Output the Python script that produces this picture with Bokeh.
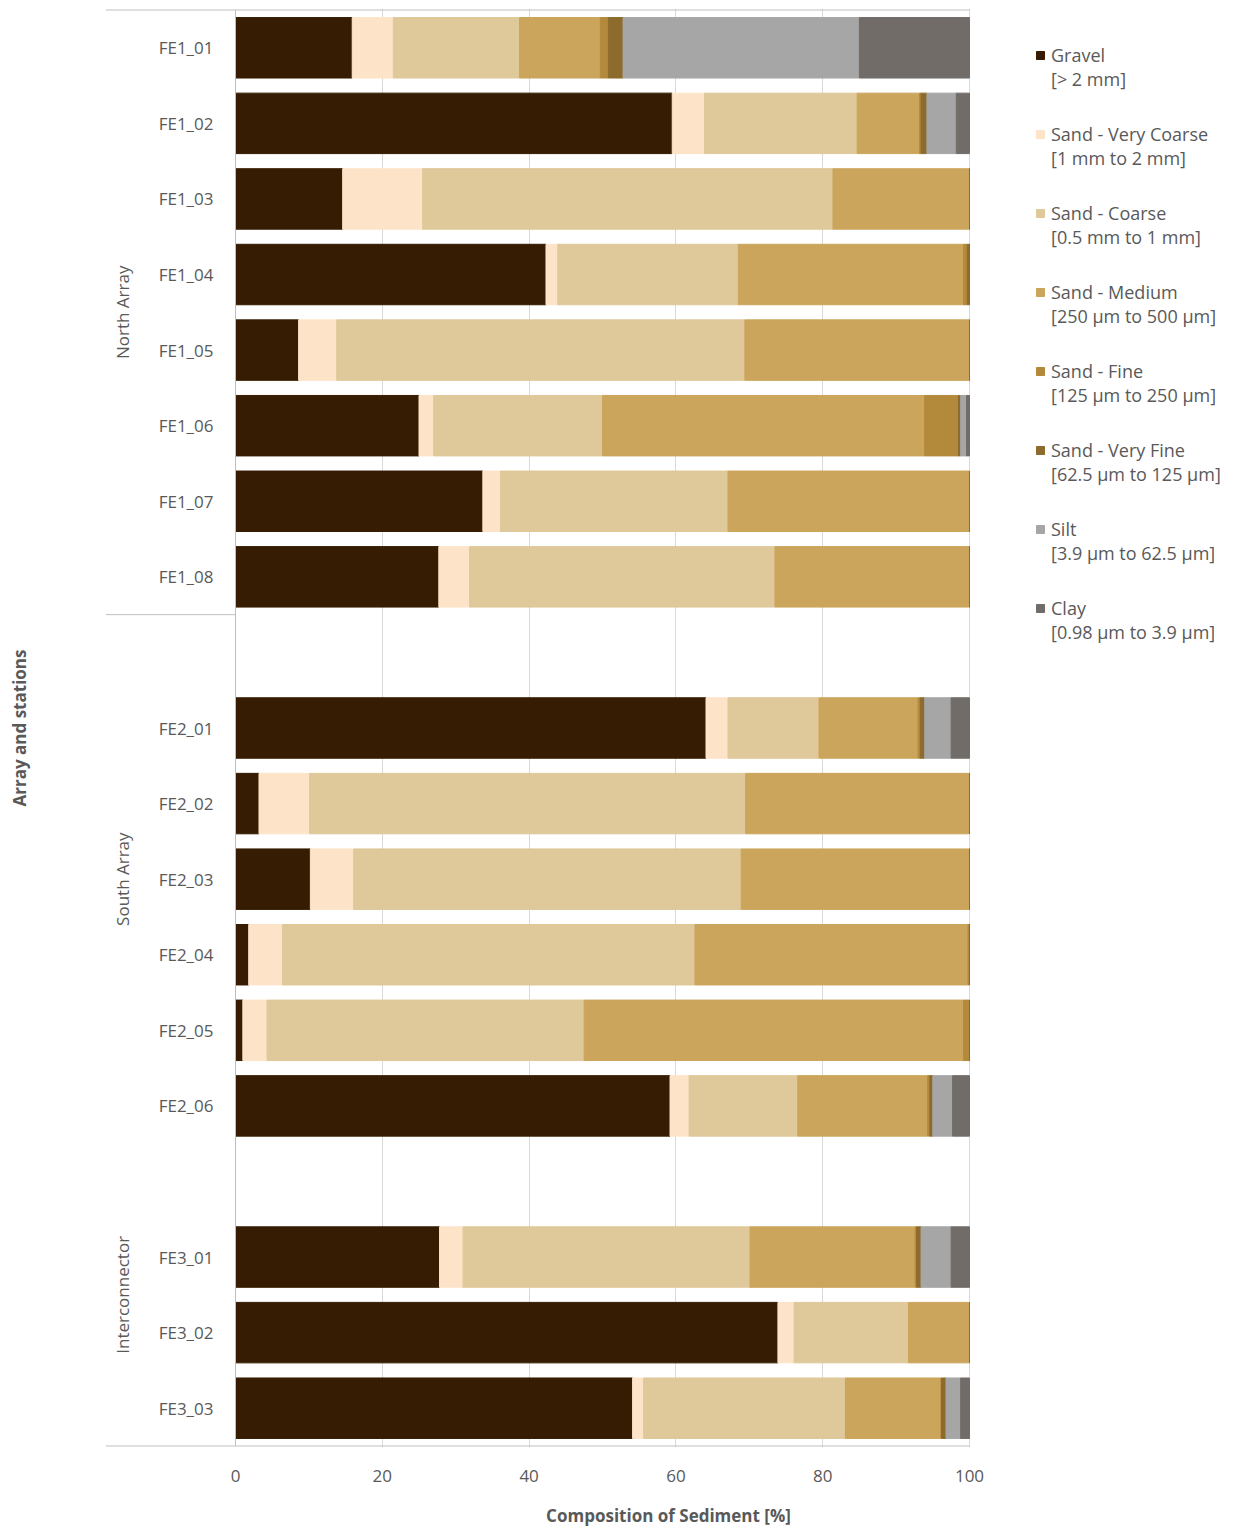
import math
from bokeh.plotting import figure
from bokeh.models import (ColumnDataSource, Range1d, FixedTicker, Legend, LegendItem)
from bokeh.embed import file_html
from bokeh.resources import INLINE

# ---------------- data ----------------
stations = ["FE1_01", "FE1_02", "FE1_03", "FE1_04", "FE1_05", "FE1_06", "FE1_07", "FE1_08",
            "FE2_01", "FE2_02", "FE2_03", "FE2_04", "FE2_05", "FE2_06",
            "FE3_01", "FE3_02", "FE3_03"]
station_group = ["North Array"] * 8 + ["South Array"] * 6 + ["Interconnector"] * 3
groups = ["North Array", "South Array", "Interconnector"]

gravel      = [15.9, 59.5, 14.6, 42.3, 8.6, 25.0, 33.7, 27.7, 64.1, 3.2, 10.2, 1.8, 1.0, 59.2, 27.8, 73.9, 54.1]
very_coarse = [5.6, 4.4, 10.9, 1.6, 5.2, 2.0, 2.4, 4.2, 3.0, 6.9, 5.9, 4.6, 3.3, 2.6, 3.2, 2.2, 1.5]
coarse      = [17.2, 20.8, 55.9, 24.6, 55.6, 23.0, 31.0, 41.6, 12.4, 59.4, 52.8, 56.2, 43.2, 14.8, 39.1, 15.6, 27.5]
medium      = [11.0, 8.5, 18.6, 30.7, 30.6, 43.9, 32.9, 26.5, 13.5, 30.5, 31.1, 37.2, 51.7, 17.7, 22.5, 8.3, 13.0]
fine        = [1.1, 0.2, 0.0, 0.5, 0.0, 4.6, 0.0, 0.0, 0.3, 0.0, 0.0, 0.2, 0.8, 0.3, 0.2, 0.0, 0.1]
very_fine   = [2.0, 0.8, 0.0, 0.3, 0.0, 0.3, 0.0, 0.0, 0.6, 0.0, 0.0, 0.0, 0.0, 0.4, 0.6, 0.0, 0.6]
silt        = [32.2, 4.0, 0.0, 0.0, 0.0, 0.8, 0.0, 0.0, 3.6, 0.0, 0.0, 0.0, 0.0, 2.7, 4.1, 0.0, 2.0]
clay        = [15.0, 1.8, 0.0, 0.0, 0.0, 0.4, 0.0, 0.0, 2.5, 0.0, 0.0, 0.0, 0.0, 2.3, 2.5, 0.0, 1.2]

class_keys = ["gravel", "very_coarse", "coarse", "medium", "fine", "very_fine", "silt", "clay"]
class_names = ["Gravel", "Sand - Very Coarse", "Sand - Coarse", "Sand - Medium",
               "Sand - Fine", "Sand - Very Fine", "Silt", "Clay"]
class_ranges = ["[> 2 mm]", "[1 mm to 2 mm]", "[0.5 mm to 1 mm]", "[250 \u00b5m to 500 \u00b5m]",
                "[125 \u00b5m to 250 \u00b5m]", "[62.5 \u00b5m to 125 \u00b5m]",
                "[3.9 \u00b5m to 62.5 \u00b5m]", "[0.98 \u00b5m to 3.9 \u00b5m]"]
colors = ["#351C02", "#FDE4C9", "#DFC899", "#CBA55B", "#B38A3C", "#8C6B2D", "#A6A6A6", "#716C68"]

x_ticks = [0, 20, 40, 60, 80, 100]

# ---------------- row layout (one blank slot before each new group) ----------------
positions = []
boundaries = [0]
group_spans = {}
slot = 0
prev = None
for st, g in zip(stations, station_group):
    if prev is not None and g != prev:
        boundaries.append(slot)
        slot += 1
    if g not in group_spans:
        group_spans[g] = [slot - (1 if prev is not None else 0), None]
    positions.append(slot + 0.5)
    slot += 1
    group_spans[g][1] = slot
    prev = g
n_slots = slot

# pixel geometry of the chart (screen layout, not data)
W, H = 1231, 1529
FRAME_L, ZERO_X, FULL_X, PLOT_T, PLOT_B = 105, 235, 969, 10, 1445
ppu = (FULL_X - ZERO_X) / 100.0
x_start = -(ZERO_X - FRAME_L) / ppu
x_end = 100 + (W - FULL_X) / ppu
slot_px = (PLOT_B - PLOT_T) / n_slots
pad = 1.5 / slot_px

source = ColumnDataSource(dict(y=positions, gravel=gravel, very_coarse=very_coarse, coarse=coarse,
                               medium=medium, fine=fine, very_fine=very_fine, silt=silt, clay=clay))
label_src = ColumnDataSource(dict(y=positions, name=stations))
grp_src = ColumnDataSource(dict(y=[(group_spans[g][0] + group_spans[g][1]) / 2 for g in groups],
                                name=groups))
sep_src = ColumnDataSource(dict(y=boundaries[1:-1]))

FONT = "Open Sans"
TXT = "#595959"
LINE = "#BFBFBF"

p = figure(width=W, height=H, x_range=Range1d(x_start, x_end),
           y_range=Range1d(n_slots + pad, -pad),
           output_backend="svg", toolbar_location=None,
           min_border_left=FRAME_L, min_border_right=0, min_border_top=int(PLOT_T - 1.5),
           min_border_bottom=int(H - PLOT_B - 1.5))
p.outline_line_color = None
p.background_fill_color = "white"

renderers = p.hbar_stack(class_keys, y="y", height=0.8, color=colors, source=source)

# station names, group names, separators, frame lines
p.text(x=-(ZERO_X - 213) / ppu, y="y", text="name", source=label_src, text_align="right",
       text_baseline="middle", text_font={"value": FONT}, text_font_size="17px", text_color=TXT)
p.text(x=-(ZERO_X - 122) / ppu, y="y", text="name", source=grp_src, angle=math.pi / 2,
       text_align="center", text_baseline="middle", text_font={"value": FONT},
       text_font_size="17px", text_color=TXT)
p.segment(x0=x_start, x1=0, y0="y", y1="y", source=sep_src, line_color=LINE, line_width=1)
p.segment(x0=x_start, x1=100, y0=0, y1=0, line_color=LINE, line_width=1)
p.segment(x0=x_start, x1=100, y0=n_slots, y1=n_slots, line_color=LINE, line_width=1)
p.segment(x0=0, x1=0, y0=0, y1=n_slots, line_color=LINE, line_width=1)

# x axis (labels only; its line is drawn above)
p.xaxis.ticker = FixedTicker(ticks=x_ticks)
p.xaxis.major_tick_out = 0
p.xaxis.major_tick_in = 0
p.xaxis.minor_tick_out = 0
p.xaxis.axis_line_color = None
p.xaxis.major_label_standoff = 22
p.xaxis.major_label_text_font = FONT
p.xaxis.major_label_text_font_size = "17px"
p.xaxis.major_label_text_color = TXT
p.xaxis.axis_label = "Composition of Sediment [%]"
p.xaxis.axis_label_text_font = FONT
p.xaxis.axis_label_text_font_size = "17px"
p.xaxis.axis_label_text_font_style = "bold"
p.xaxis.axis_label_text_color = TXT
p.xaxis.axis_label_standoff = 19

p.xgrid.ticker = FixedTicker(ticks=x_ticks[1:])
p.xgrid.grid_line_color = "#D9D9D9"
p.ygrid.grid_line_color = None

# y axis: only its title
p.yaxis.ticker = FixedTicker(ticks=[])
p.yaxis.axis_line_color = None
p.yaxis.major_tick_out = 0
p.yaxis.minor_tick_out = 0
p.yaxis.axis_label = "Array and stations"
p.yaxis.axis_label_text_font = FONT
p.yaxis.axis_label_text_font_size = "17px"
p.yaxis.axis_label_text_font_style = "bold"
p.yaxis.axis_label_text_color = TXT
p.yaxis.axis_label_standoff = 75

# legend: glyph aligned with the first line (a blank line above keeps it centred on the name)
items = [LegendItem(label="\n" + nm + "\n" + rg, renderers=[r])
         for nm, rg, r in zip(class_names, class_ranges, renderers)]
legend = Legend(items=items, location=(930, 803), padding=10, spacing=7, margin=0,
                glyph_height=10, glyph_width=10, label_standoff=6,
                border_line_color=None, background_fill_alpha=0,
                label_text_font=FONT, label_text_font_size="18px", label_text_color=TXT)
p.add_layout(legend)

open("out.html", "w").write(file_html(p, INLINE))
